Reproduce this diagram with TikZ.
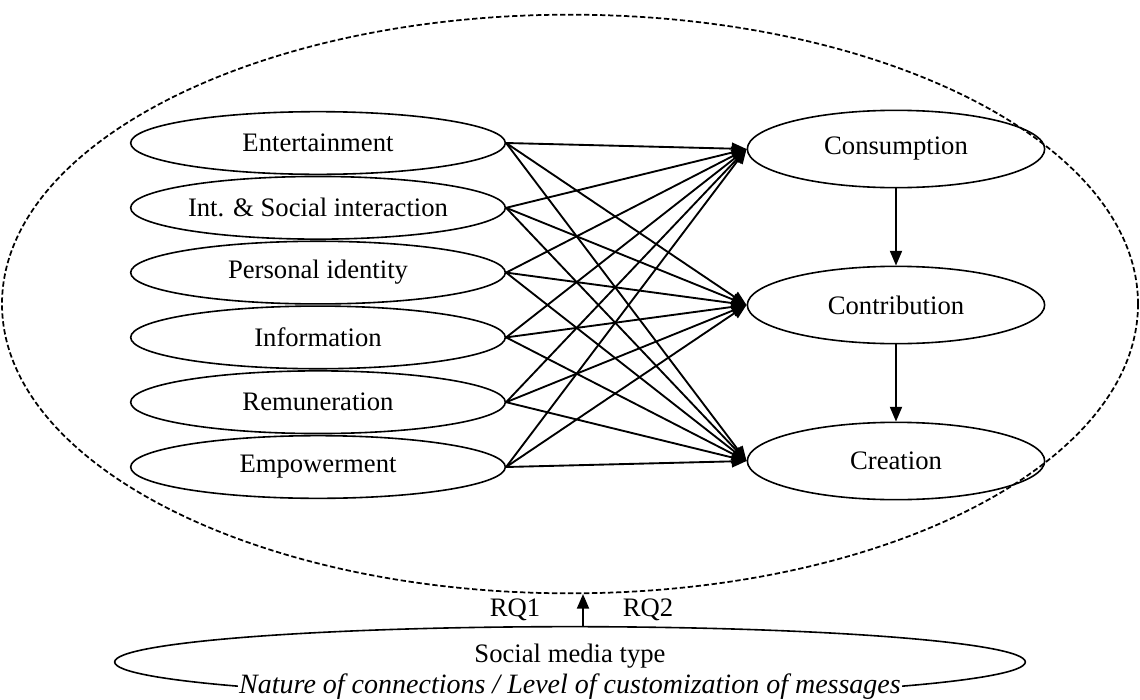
\documentclass[tikz,border=0pt]{standalone}
\usepackage{fontspec}
\setmainfont{Liberation Serif}
\usetikzlibrary{arrows.meta, shapes.geometric}
\tikzset{
  every picture/.style={line width=1.2pt},
  label/.style={font=\fontsize{20}{24}\selectfont, align=center},
  motive/.style={ellipse, draw, label, inner sep=0pt, minimum width=281pt, minimum height=47pt},
  usage/.style={ellipse, draw, label, inner sep=0pt, minimum width=223pt, minimum height=58pt},
  arrow/.style={-{Triangle[length=11pt, width=9pt]}, line width=1.4pt},
  scopeline/.style={ellipse, draw, dash pattern=on 4pt off 2pt, line width=1.3pt, inner sep=0pt},
}

\begin{document}
\begin{tikzpicture}[x=0.75pt, y=-0.75pt]
  \useasboundingbox (0,0) rectangle (1140,700);
  % dashed frame round the model
  \node[scopeline, minimum width=852pt, minimum height=434pt] (frame) at (570,304) {};
  \foreach \w [count=\k] in {Entertainment, Int. \& Social interaction, Personal identity, Information, Remuneration, Empowerment}
    \node[motive] (m\k) at (318,78.2+64.8*\k) {\w};
  \foreach \w [count=\k] in {Consumption, Contribution, Creation}
    \node[usage] (u\k) at (896,-7+156*\k) {\w};
  \foreach \i in {1,...,6} \foreach \j in {1,2,3} \draw[arrow] (m\i.east) -- (u\j.west);
  \draw[arrow] (u1) -- (u2);
  \draw[arrow] (u2) -- (u3);
  % moderator
  \node[ellipse, draw, inner sep=0pt, minimum width=683pt, minimum height=53pt] (medium) at (570,662) {};
  \node[label] (mediumtext) at (570,656) {Social media type};
  \node[label, font=\fontsize{21}{24}\itshape, fill=white, inner sep=1pt] (mediumnote) at (570,687) {Nature of connections / Level of customization of messages};
  \coordinate (rq) at (583,594);
  \draw[arrow] (rq |- medium.north) -- (rq);
  \node[label] (rq1) at (515,610) {RQ1};
  \node[label] (rq2) at (648,610) {RQ2};
\end{tikzpicture}
\end{document}
